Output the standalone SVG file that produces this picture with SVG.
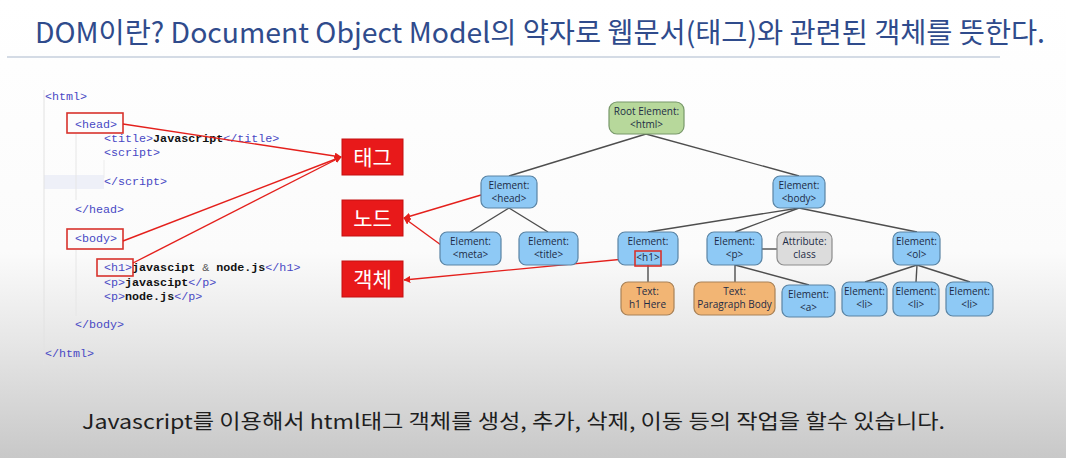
<svg xmlns="http://www.w3.org/2000/svg" width="1066" height="458" viewBox="0 0 1066 458">
<defs>
<linearGradient id="bg" x1="0" y1="0" x2="0" y2="1">
<stop offset="0" stop-color="#ffffff"/>
<stop offset="0.55" stop-color="#fbfbfb"/>
<stop offset="0.75" stop-color="#e6e6e6"/>
<stop offset="1" stop-color="#c8c8c8"/>
</linearGradient>
<marker id="ah" viewBox="0 0 10 10" refX="9" refY="5" markerWidth="7" markerHeight="7" orient="auto" markerUnits="userSpaceOnUse">
<path d="M0,0 L10,5 L0,10 z" fill="#e4201c"/>
</marker>
<style>
.code{font-family:"Liberation Mono",monospace;font-size:11.7px;fill:#4848c4}
.b{fill:#111;font-weight:bold}
.hl{fill:none;stroke:#d8322c;stroke-width:1.6}
.lab rect{fill:#e8191a;stroke:#c41010;stroke-width:1}
.lab text{font-family:"Noto Sans CJK KR",sans-serif;font-size:21px;fill:#fff;text-anchor:middle}
.el{fill:#8ec9f5;stroke:#5a84a4;stroke-width:1.2}
.rt{fill:#b7d89b;stroke:#78986a;stroke-width:1.2}
.tx{fill:#f2b574;stroke:#a88258;stroke-width:1.2}
.at{fill:#dcdcdc;stroke:#8c8c8c;stroke-width:1.2}
.nt{font-family:"Open Sans","Liberation Sans",sans-serif;font-size:10px;fill:#1d2b45;text-anchor:middle}
.edge{stroke:#4e4e4e;stroke-width:1.4;fill:none}
.red{stroke:#e4201c;stroke-width:1.4;fill:none}
</style>
</defs>
<rect width="1066" height="458" fill="url(#bg)"/>

<!-- title -->
<text x="35" y="43" font-family="'Noto Sans CJK KR','Noto Sans',sans-serif" font-size="28" fill="#2f4b8c" textLength="1010" lengthAdjust="spacingAndGlyphs">DOM이란? Document Object Model의 약자로 웹문서(태그)와 관련된 객체를 뜻한다.</text>
<line x1="7" y1="57" x2="1000" y2="57" stroke="#a9b8cc" stroke-width="1.2"/>

<!-- code -->
<g id="code">
<rect x="44" y="175" width="60" height="14" fill="#eef0f8"/>
<line x1="44" y1="90" x2="44" y2="365" stroke="#e2e2e2" stroke-width="1"/>
<line x1="76" y1="134" x2="76" y2="200" stroke="#e6e6e6" stroke-width="1"/>
<line x1="76" y1="250" x2="76" y2="316" stroke="#e6e6e6" stroke-width="1"/>
<line x1="104" y1="160" x2="104" y2="178" stroke="#ececec" stroke-width="1"/>
<text class="code" x="45" y="100">&lt;html&gt;</text>
<text class="code" x="75" y="128">&lt;head&gt;</text>
<text class="code" x="104" y="142">&lt;title&gt;<tspan class="b">Javascript</tspan>&lt;/title&gt;</text>
<text class="code" x="104" y="156">&lt;script&gt;</text>
<text class="code" x="104" y="185">&lt;/script&gt;</text>
<text class="code" x="75" y="213">&lt;/head&gt;</text>
<text class="code" x="75" y="242">&lt;body&gt;</text>
<text class="code" x="104" y="271">&lt;h1&gt;<tspan class="b">javascipt</tspan> <tspan fill="#555">&amp;</tspan> <tspan class="b">node.js</tspan>&lt;/h1&gt;</text>
<text class="code" x="104" y="286">&lt;p&gt;<tspan class="b">javascipt</tspan>&lt;/p&gt;</text>
<text class="code" x="104" y="300">&lt;p&gt;<tspan class="b">node.js</tspan>&lt;/p&gt;</text>
<text class="code" x="75" y="328">&lt;/body&gt;</text>
<text class="code" x="45" y="357">&lt;/html&gt;</text>
<rect class="hl" x="67" y="113" width="56" height="20"/>
<rect class="hl" x="67" y="229" width="56" height="20"/>
<rect class="hl" x="97" y="259" width="36" height="17"/>
</g>

<!-- labels -->
<g id="label-tag" class="lab"><rect x="342" y="139" width="61" height="36"/><text x="372.5" y="165">태그</text></g>
<g id="label-node" class="lab"><rect x="342" y="200" width="61" height="36"/><text x="372.5" y="226">노드</text></g>
<g id="label-obj" class="lab"><rect x="342" y="261" width="61" height="36"/><text x="372.5" y="287">객체</text></g>

<!-- connectors -->
<g id="connectors">
<path class="edge" d="M646,134 L509,176"/>
<path class="edge" d="M646,134 L799,176"/>
<path class="edge" d="M509,208 L470,232"/>
<path class="edge" d="M509,208 L548,232"/>
<path class="edge" d="M799,208 L648,232"/>
<path class="edge" d="M799,208 L735,232"/>
<path class="edge" d="M799,208 L917,232"/>
<path class="edge" d="M648,265 L648,282"/>
<path class="edge" d="M735,265 L735,282"/>
<path class="edge" d="M735,265 L809,285"/>
<path class="edge" d="M762,249 L777,249"/>
<path class="edge" d="M917,265 L865,282"/>
<path class="edge" d="M917,265 L916,282"/>
<path class="edge" d="M917,265 L970,282"/>
<path class="red" d="M123,124 L341,157" marker-end="url(#ah)"/>
<path class="red" d="M123,241 L341,157" marker-end="url(#ah)"/>
<path class="red" d="M133,263 L341,157" marker-end="url(#ah)"/>
<path class="red" d="M481,195 L404,218" marker-end="url(#ah)"/>
<path class="red" d="M441,245 L404,218" marker-end="url(#ah)"/>
<path class="red" d="M635,258 L404,280" marker-end="url(#ah)"/>
</g>

<!-- tree nodes -->
<g id="n-root"><rect class="rt" x="609" y="102" width="75" height="32" rx="8"/><text class="nt" x="646.5" y="115">Root Element:</text><text class="nt" x="646.5" y="128">&lt;html&gt;</text></g>
<g id="n-head"><rect class="el" x="481" y="176" width="56" height="32" rx="7"/><text class="nt" x="509" y="189">Element:</text><text class="nt" x="509" y="202">&lt;head&gt;</text></g>
<g id="n-body"><rect class="el" x="773" y="176" width="52" height="32" rx="7"/><text class="nt" x="799" y="189">Element:</text><text class="nt" x="799" y="202">&lt;body&gt;</text></g>
<g id="n-meta"><rect class="el" x="440" y="232" width="61" height="33" rx="7"/><text class="nt" x="470.5" y="245">Element:</text><text class="nt" x="470.5" y="258">&lt;meta&gt;</text></g>
<g id="n-title"><rect class="el" x="519" y="232" width="59" height="33" rx="7"/><text class="nt" x="548.5" y="245">Element:</text><text class="nt" x="548.5" y="258">&lt;title&gt;</text></g>
<g id="n-h1"><rect class="el" x="618" y="232" width="60" height="33" rx="7"/><text class="nt" x="648" y="245">Element:</text><text class="nt" x="648" y="261">&lt;h1&gt;</text><rect class="hl" x="635" y="251" width="26" height="15"/></g>
<g id="n-p"><rect class="el" x="707" y="232" width="55" height="33" rx="7"/><text class="nt" x="734.5" y="245">Element:</text><text class="nt" x="734.5" y="258">&lt;p&gt;</text></g>
<g id="n-attr"><rect class="at" x="777" y="232" width="55" height="33" rx="7"/><text class="nt" x="804.5" y="245">Attribute:</text><text class="nt" x="804.5" y="258">class</text></g>
<g id="n-ol"><rect class="el" x="893" y="232" width="47" height="33" rx="7"/><text class="nt" x="916.5" y="245">Element:</text><text class="nt" x="916.5" y="258">&lt;ol&gt;</text></g>
<g id="n-texth1"><rect class="tx" x="621" y="282" width="53" height="33" rx="7"/><text class="nt" x="647.5" y="295">Text:</text><text class="nt" x="647.5" y="308">h1 Here</text></g>
<g id="n-textp"><rect class="tx" x="694" y="282" width="81" height="33" rx="7"/><text class="nt" x="734.5" y="295">Text:</text><text class="nt" x="734.5" y="308">Paragraph Body</text></g>
<g id="n-a"><rect class="el" x="782" y="285" width="53" height="32" rx="7"/><text class="nt" x="808.5" y="298">Element:</text><text class="nt" x="808.5" y="311">&lt;a&gt;</text></g>
<g id="n-li1"><rect class="el" x="842" y="282" width="45" height="34" rx="7"/><text class="nt" x="864.5" y="295">Element:</text><text class="nt" x="864.5" y="308">&lt;li&gt;</text></g>
<g id="n-li2"><rect class="el" x="893" y="282" width="46" height="34" rx="7"/><text class="nt" x="916" y="295">Element:</text><text class="nt" x="916" y="308">&lt;li&gt;</text></g>
<g id="n-li3"><rect class="el" x="946" y="282" width="47" height="34" rx="7"/><text class="nt" x="969.5" y="295">Element:</text><text class="nt" x="969.5" y="308">&lt;li&gt;</text></g>

<!-- bottom caption -->
<text x="82" y="429" font-family="'Noto Sans CJK KR','Noto Sans',sans-serif" font-size="20" fill="#1e1e1e" textLength="863" lengthAdjust="spacingAndGlyphs">Javascript를 이용해서 html태그 객체를 생성, 추가, 삭제, 이동 등의 작업을 할수 있습니다.</text>
</svg>
